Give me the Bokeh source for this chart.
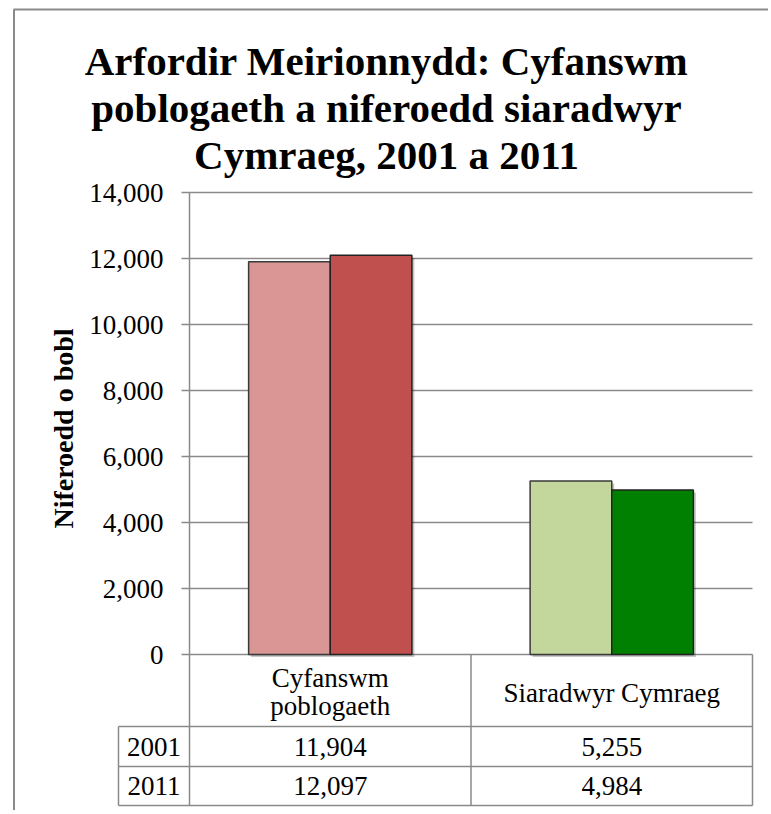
from bokeh.plotting import figure
from bokeh.models import LinearAxis, FixedTicker, NumeralTickFormatter, Range1d, ColumnDataSource
from bokeh.core.properties import value
from bokeh.embed import file_html
from bokeh.resources import INLINE

# ---------------- data ----------------
title_lines = ["Arfordir Meirionnydd: Cyfanswm",
               "poblogaeth a niferoedd siaradwyr",
               "Cymraeg, 2001 a 2011"]
y_label = "Niferoedd o bobl"
categories = ["Cyfanswm poblogaeth", "Siaradwyr Cymraeg"]
category_lines = [["Cyfanswm", "poblogaeth"], ["Siaradwyr Cymraeg"]]
years = ["2001", "2011"]
values_2001 = [11904, 5255]
values_2011 = [12097, 4984]
colors_2001 = ["#D99694", "#C3D69B"]
colors_2011 = ["#C0504D", "#008000"]
y_ticks = [0, 2000, 4000, 6000, 8000, 10000, 12000, 14000]

# ---------------- layout (page pixels) ----------------
W, H = 768, 810
OFF = 0
AXIS_PX, RIGHT_PX = 189, 752
ZERO_PX, TOP_TICK_PX = 654, 192
XS = (RIGHT_PX - AXIS_PX) / len(categories)          # px per category
YS = (ZERO_PX - TOP_TICK_PX) / max(y_ticks)           # px per person

def X(px):
    return (px - AXIS_PX) / XS

def Y(py):
    return (ZERO_PX - py) / YS

GREY = "#8A8A8A"
SERIF = "Liberation Serif"

p = figure(width=W, height=H, output_backend="svg", toolbar_location=None,
           x_axis_type=None, y_axis_type=None,
           x_range=Range1d(X(OFF), X(OFF + W)), y_range=Range1d(Y(OFF + H), Y(OFF)),
           min_border=0, min_border_left=0, min_border_right=0,
           min_border_top=0, min_border_bottom=0)
p.outline_line_color = None
p.background_fill_color = "white"
p.border_fill_color = "white"

# outer box (left and top edges visible)
p.segment(x0=[X(13.5), X(13)], y0=[Y(9), Y(9)], x1=[X(13.5), X(OFF + W)], y1=[Y(OFF + H), Y(9)],
          line_color=GREY, line_width=2)

# gridlines
n = len(categories)
p.segment(x0=[0] * len(y_ticks), x1=[n] * len(y_ticks), y0=y_ticks, y1=y_ticks,
          line_color=GREY, line_width=1.5)

# bars
bw = 0.29
centers = [i + 0.5 for i in range(n)]
x_2001 = [c - bw / 2 for c in centers]
x_2011 = [c + bw / 2 for c in centers]
src = ColumnDataSource(dict(x1=x_2001, x2=x_2011, v1=values_2001, v2=values_2011,
                            c1=colors_2001, c2=colors_2011))
sx, sy = 2.5 / XS, 2.5 / YS
p.vbar(x=[x + sx for x in x_2001], top=[v - sy for v in values_2001], bottom=-sy, width=bw,
       fill_color="black", fill_alpha=0.22, line_color=None)
p.vbar(x=[x + sx for x in x_2011], top=[v - sy for v in values_2011], bottom=-sy, width=bw,
       fill_color="black", fill_alpha=0.22, line_color=None)
p.vbar(x="x1", top="v1", bottom=0, width=bw, fill_color="c1", line_color="#3a3a3a",
       line_width=1.5, source=src)
p.vbar(x="x2", top="v2", bottom=0, width=bw, fill_color="c2", line_color="#222222",
       line_width=1.5, source=src)

# y axis
yaxis = LinearAxis(fixed_location=0, bounds=(0, max(y_ticks)),
                   ticker=FixedTicker(ticks=y_ticks),
                   formatter=NumeralTickFormatter(format="0,0"))
yaxis.axis_line_color = GREY
yaxis.axis_line_width = 1.5
yaxis.major_tick_line_color = GREY
yaxis.major_tick_line_width = 1.5
yaxis.major_tick_out = 8
yaxis.major_tick_in = 0
yaxis.minor_tick_line_color = None
yaxis.major_label_text_font = SERIF
yaxis.major_label_text_font_size = "27px"
yaxis.major_label_text_color = "black"
yaxis.major_label_standoff = 18
p.add_layout(yaxis, "left")

# data table lines
row_px = [726, 766, 805]
hy = [Y(r) for r in row_px]
p.segment(x0=[X(118)] * 3, x1=[n] * 3, y0=hy, y1=hy, line_color=GREY, line_width=1.5)
p.segment(x0=[X(118)], x1=[X(118)], y0=[hy[0]], y1=[hy[-1]], line_color=GREY, line_width=1.5)
p.segment(x0=[0, 1, 2], x1=[0, 1, 2], y0=[0, 0, 0], y1=[hy[-1]] * 3, line_color=GREY, line_width=1.5)

# texts
def txt(xs, ys, texts, size, bold=False, angle=0):
    p.text(x=xs, y=ys, text=texts, angle=angle, text_font=value(SERIF),
           text_font_size=value(size), text_font_style="bold" if bold else "normal",
           text_align="center", text_baseline="middle", text_color="black")

txt([X(386)] * 3, [Y(60), Y(107), Y(154)], title_lines, "41px", bold=True)
txt([X(63)], [Y(428)], [y_label], "28px", bold=True, angle=1.5707963)

hx, hyy, ht = [], [], []
for i, lines in enumerate(category_lines):
    if len(lines) == 2:
        hx += [centers[i]] * 2
        hyy += [Y(677), Y(705)]
    else:
        hx += [centers[i]]
        hyy += [Y(692)]
    ht += lines
txt(hx, hyy, ht, "27px")

row_c = [Y(746), Y(785.5)]
txt([X(153.5)] * 2, row_c, years, "27px")
txt(centers, [row_c[0]] * n, ["{:,}".format(v) for v in values_2001], "27px")
txt(centers, [row_c[1]] * n, ["{:,}".format(v) for v in values_2011], "27px")

open("out.html", "w").write(file_html(p, INLINE))
